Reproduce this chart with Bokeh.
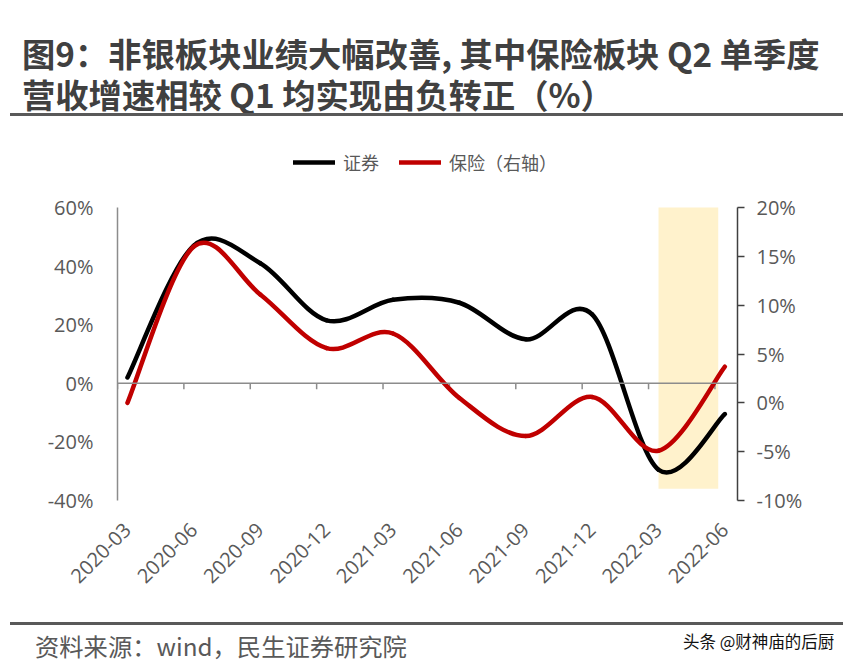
import math
from bokeh.plotting import figure
from bokeh.layouts import column
from bokeh.models import (Range1d, LinearAxis, FixedTicker, Legend, LegendItem, Div, Span)
from bokeh.embed import file_html
from bokeh.resources import INLINE

# ---------------- data ----------------
categories = ["2020-03", "2020-06", "2020-09", "2020-12", "2021-03",
              "2021-06", "2021-09", "2021-12", "2022-03", "2022-06"]
securities = [2.0, 47.0, 41.0, 21.5, 28.5, 27.5, 15.0, 23.5, -29.5, -10.5]   # left axis, %
insurance = [0.0, 16.0, 11.1, 5.6, 7.1, 0.5, -3.4, 0.6, -4.9, 3.7]          # right axis, %
left_ticks = [-40, -20, 0, 20, 40, 60]
right_ticks = [-10, -5, 0, 5, 10, 15, 20]
highlight_from = "2022-03"
highlight_span = 0.9
highlight_top = 60
highlight_bottom = -36

title_line1 = "图9：非银板块业绩大幅改善, 其中保险板块 Q2 单季度"
title_line2 = "营收增速相较 Q1 均实现由负转正（%）"
legend_labels = ["证券", "保险（右轴）"]
source_text = "资料来源：wind，民生证券研究院"
watermark = "头条 @财神庙的后厨"

FONT = "Noto Sans CJK SC"
GREY = "#595959"
W = 850
TITLE_H = 118
PLOT_H = 502
FOOT_H = 50

# frame extends above the axes (room for legend); extra fraction of axis span
EXTRA = 57 / 293


def bezier_parts(ys):
    xs = list(range(len(ys)))
    n = len(ys)
    d = dict(x0=[], y0=[], x1=[], y1=[], cx0=[], cy0=[], cx1=[], cy1=[])
    for i in range(n - 1):
        a = i - 1 if i > 0 else i
        b = i + 2 if i + 2 < n else i + 1
        d["x0"].append(xs[i]); d["y0"].append(ys[i])
        d["x1"].append(xs[i + 1]); d["y1"].append(ys[i + 1])
        d["cx0"].append(xs[i] + (xs[i + 1] - xs[a]) / 6)
        d["cy0"].append(ys[i] + (ys[i + 1] - ys[a]) / 6)
        d["cx1"].append(xs[i + 1] - (xs[b] - xs[i]) / 6)
        d["cy1"].append(ys[i + 1] - (ys[b] - ys[i]) / 6)
    return d


lspan = left_ticks[-1] - left_ticks[0]
rspan = right_ticks[-1] - right_ticks[0]

p = figure(width=W, height=PLOT_H,
           x_range=Range1d(-0.15, len(categories) - 1 + 0.19),
           y_range=Range1d(left_ticks[0], left_ticks[-1] + EXTRA * lspan),
           output_backend="svg", toolbar_location=None,
           min_border_left=117, min_border_right=113,
           min_border_top=32, min_border_bottom=120)
p.extra_y_ranges = {"right": Range1d(right_ticks[0], right_ticks[-1] + EXTRA * rspan)}
p.xgrid.visible = False
p.ygrid.visible = False
p.outline_line_color = None
p.background_fill_color = "white"
p.border_fill_color = "white"

# highlight box
hi = categories.index(highlight_from)
p.quad(left=[hi], right=[hi + highlight_span], top=[highlight_top],
       bottom=[highlight_bottom], fill_color="#FFF2CC", line_color=None)

# bottom category labels
xa = p.xaxis[0]
xa.ticker = FixedTicker(ticks=list(range(len(categories))))
xa.major_label_overrides = {i: c for i, c in enumerate(categories)}
xa.major_label_orientation = math.pi / 4
xa.axis_line_color = None
xa.major_tick_line_color = None
xa.minor_tick_line_color = None
xa.major_label_standoff = 20
xa.major_label_text_font_size = "20px"
xa.major_label_text_color = GREY
xa.major_label_text_font = "Open Sans"

# zero line with small category-boundary ticks
p.add_layout(Span(location=0, dimension="width", line_color="#8C8C8C", line_width=1.5))
bounds_x = [i + 0.85 for i in range(-1, len(categories) - 1)]
tick_len = 6 * lspan / 293  # ~6 px downwards
p.segment(x0=bounds_x, x1=bounds_x, y0=[0] * len(bounds_x), y1=[-tick_len] * len(bounds_x),
          line_color="#8C8C8C", line_width=1.5)

# left axis
ya = p.yaxis[0]
ya.ticker = FixedTicker(ticks=left_ticks)
ya.bounds = (left_ticks[0], left_ticks[-1])
ya.major_label_overrides = {t: f"{t}%" for t in left_ticks}
ya.axis_line_color = "#8C8C8C"
ya.axis_line_width = 1.5
ya.major_tick_line_color = None
ya.minor_tick_line_color = None
ya.major_label_standoff = 18
ya.major_label_text_font_size = "20px"
ya.major_label_text_color = GREY
ya.major_label_text_font = "Open Sans"

# right axis
ra = LinearAxis(y_range_name="right", ticker=FixedTicker(ticks=right_ticks),
                bounds=(right_ticks[0], right_ticks[-1]),
                major_label_overrides={t: f"{t}%" for t in right_ticks},
                axis_line_color="#404040", axis_line_width=1.5,
                major_tick_line_color="#404040", major_tick_line_width=1.5,
                major_tick_out=7, major_tick_in=0, minor_tick_line_color=None,
                major_label_standoff=12, major_label_text_font_size="20px",
                major_label_text_color=GREY, major_label_text_font="Open Sans")
p.add_layout(ra, "right")

# smooth lines
r1 = p.bezier(line_color="#000000", line_width=4.5, line_cap="round",
              **bezier_parts(securities))
r2 = p.bezier(line_color="#C00000", line_width=4.5, line_cap="round",
              y_range_name="right", **bezier_parts(insurance))

legend = Legend(items=[LegendItem(label=legend_labels[0], renderers=[r1]),
                       LegendItem(label=legend_labels[1], renderers=[r2])],
                orientation="horizontal", location=(176, 325),
                glyph_width=42, glyph_height=20, label_standoff=8, spacing=20,
                padding=0, margin=0, border_line_alpha=0,
                background_fill_alpha=0, label_text_font_size="18px",
                label_text_color=GREY, label_text_font=FONT)
p.add_layout(legend, "center")

# title and footer as HTML text
title_html = (
    f'<div style="position:relative;width:{W}px;height:{TITLE_H}px;'
    f'font-family:\'{FONT}\';color:#404040;font-weight:bold;font-size:33.3px;">'
    f'<div style="position:absolute;left:22px;top:32px;line-height:41px;white-space:nowrap;">'
    f'{title_line1}<br>{title_line2}</div>'
    f'<div style="position:absolute;left:10px;top:113px;width:833px;height:3px;background:#595959;"></div>'
    f'</div>')
footer_html = (
    f'<div style="position:relative;width:{W}px;height:{FOOT_H}px;font-family:\'{FONT}\';">'
    f'<div style="position:absolute;left:10px;top:2px;width:833px;height:3px;background:#595959;"></div>'
    f'<div style="position:absolute;left:35px;top:11px;line-height:30px;font-size:24.3px;color:{GREY};white-space:nowrap;">{source_text}</div>'
    f'<div style="position:absolute;left:683px;top:9px;line-height:24px;font-size:16.5px;color:#111111;white-space:nowrap;">{watermark}</div>'
    f'</div>')

title_div = Div(text=title_html, width=W, height=TITLE_H, margin=0)
footer_div = Div(text=footer_html, width=W, height=FOOT_H, margin=0)

layout = column(title_div, p, footer_div, spacing=0, margin=0)
open("out.html", "w").write(file_html(layout, INLINE))
